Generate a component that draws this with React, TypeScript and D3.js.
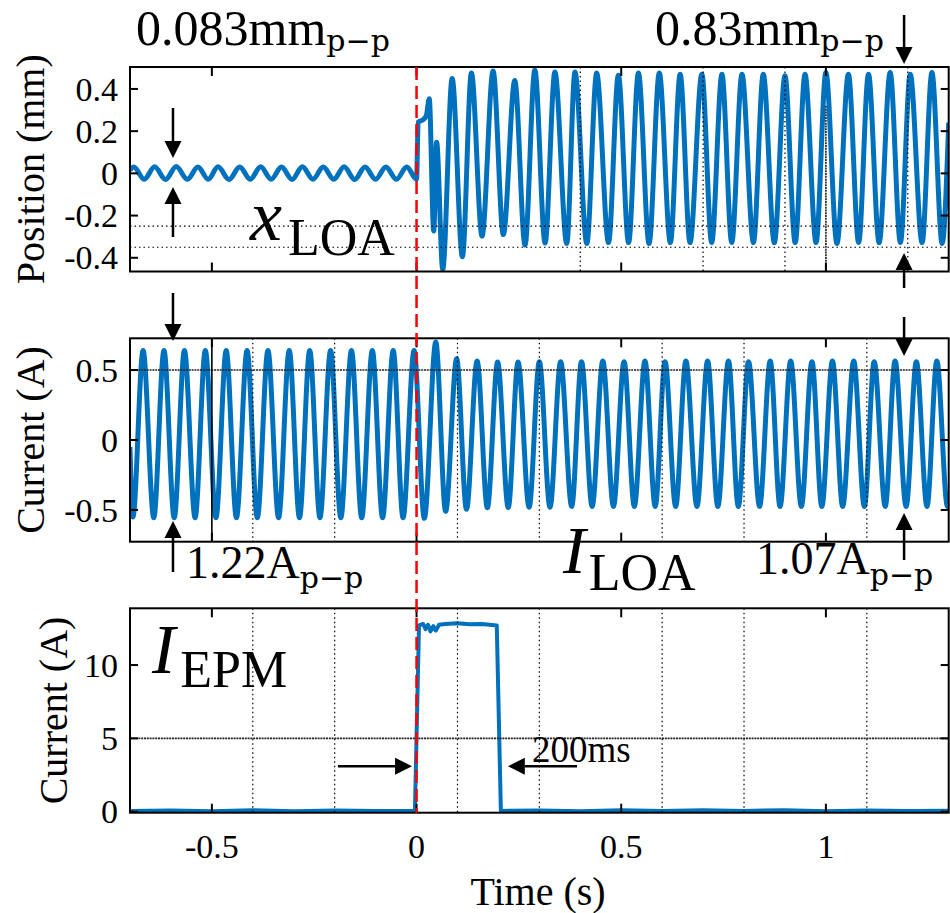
import React from "react";
import * as d3 from "d3";

const W = 950;
const H = 913;
const FONT = "Liberation Serif, Times New Roman, serif";
const BLUE = "#0072BD";

// time axis
const timeDomain = [-0.7, 1.3];
const timeTicks = [-0.5, 0, 0.5, 1];
const timeTickLabels = ["-0.5", "0", "0.5", "1"];

// x_LOA position (mm), extrema
const positionPoints: [number, number][] = [
  [-0.7, 0.015], [-0.691, 0.03], [-0.665, -0.028], [-0.64, 0.031], [-0.613, -0.029], [-0.587, 0.032],
  [-0.56, -0.028], [-0.534, 0.03], [-0.509, -0.028], [-0.485, 0.031], [-0.458, -0.029], [-0.432, 0.03],
  [-0.406, -0.028], [-0.381, 0.031], [-0.355, -0.028], [-0.33, 0.03], [-0.304, -0.029], [-0.279, 0.031],
  [-0.253, -0.028], [-0.228, 0.03], [-0.202, -0.028], [-0.177, 0.031], [-0.151, -0.029], [-0.126, 0.03],
  [-0.1, -0.028], [-0.075, 0.03], [-0.049, -0.028], [-0.024, 0.03], [0.0, -0.028],
  [0.004, 0.243], [0.016, 0.254], [0.024, 0.275], [0.031, 0.354], [0.042, -0.273], [0.049, 0.148],
  [0.064, -0.455], [0.087, 0.45], [0.112, -0.395], [0.134, 0.475], [0.16, -0.297], [0.187, 0.485],
  [0.212, -0.29], [0.24, 0.44], [0.265, -0.34], [0.289, 0.49], [0.314, -0.33], [0.338, 0.48],
  [0.367, -0.332], [0.387, 0.48], [0.416, -0.332], [0.44, 0.475], [0.469, -0.328], [0.493, 0.465],
  [0.518, -0.328], [0.542, 0.475], [0.568, -0.332], [0.593, 0.475], [0.62, -0.328], [0.644, 0.47],
  [0.668, -0.328], [0.697, 0.47], [0.721, -0.328], [0.746, 0.47], [0.77, -0.328], [0.795, 0.47],
  [0.823, -0.328], [0.847, 0.47], [0.874, -0.328], [0.9, 0.462], [0.925, -0.328], [0.949, 0.47],
  [0.976, -0.328], [1.0, 0.478], [1.027, -0.332], [1.055, 0.47], [1.08, -0.328], [1.104, 0.47],
  [1.13, -0.328], [1.157, 0.478], [1.182, -0.328], [1.206, 0.47], [1.235, -0.328], [1.259, 0.478],
  [1.284, -0.332], [1.3, 0.24],
];

// I_LOA current (A)
const currentPoints: [number, number][] = [
  [-0.7, -0.05], [-0.693, -0.55], [-0.668, 0.64], [-0.642, -0.555], [-0.617, 0.64], [-0.592, -0.555],
  [-0.567, 0.64], [-0.541, -0.555], [-0.516, 0.64], [-0.49, -0.555], [-0.465, 0.64], [-0.44, -0.555],
  [-0.414, 0.64], [-0.389, -0.555], [-0.363, 0.64], [-0.337, -0.555], [-0.311, 0.64], [-0.286, -0.555],
  [-0.261, 0.64], [-0.236, -0.555], [-0.21, 0.64], [-0.185, -0.555], [-0.159, 0.64], [-0.134, -0.555],
  [-0.108, 0.64], [-0.083, -0.555], [-0.057, 0.64], [-0.033, -0.555], [-0.006, 0.64],
  [0.019, -0.56], [0.047, 0.7], [0.071, -0.51], [0.098, 0.58], [0.122, -0.495], [0.148, 0.565],
  [0.173, -0.485], [0.198, 0.557], [0.224, -0.483], [0.248, 0.557], [0.275, -0.48], [0.3, 0.56],
  [0.326, -0.48], [0.352, 0.56], [0.379, -0.475], [0.403, 0.56], [0.429, -0.475], [0.455, 0.565],
  [0.481, -0.475], [0.507, 0.56], [0.532, -0.475], [0.558, 0.565], [0.583, -0.475], [0.607, 0.56],
  [0.633, -0.475], [0.658, 0.565], [0.685, -0.475], [0.711, 0.565], [0.736, -0.475], [0.762, 0.565],
  [0.786, -0.475], [0.811, 0.56], [0.838, -0.475], [0.864, 0.565], [0.888, -0.475], [0.914, 0.565],
  [0.94, -0.475], [0.966, 0.56], [0.99, -0.475], [1.016, 0.565], [1.041, -0.475], [1.068, 0.565],
  [1.094, -0.475], [1.118, 0.56], [1.145, -0.475], [1.169, 0.565], [1.196, -0.475], [1.221, 0.56],
  [1.247, -0.475], [1.271, 0.565], [1.297, -0.475], [1.3, -0.47],
];

// I_EPM current (A)
const epmPoints: [number, number][] = [
  [-0.7, 0.05], [-0.6, 0.08], [-0.5, 0.03], [-0.4, 0.1], [-0.3, 0.03], [-0.2, 0.08], [-0.1, 0.04],
  [-0.004, 0.05], [0.006, 12.7], [0.016, 12.8], [0.022, 12.45], [0.028, 12.75], [0.034, 12.3],
  [0.041, 12.65], [0.047, 12.35], [0.055, 12.75], [0.07, 12.8], [0.1, 12.85], [0.13, 12.78],
  [0.16, 12.8], [0.196, 12.7], [0.206, 0.05], [0.3, 0.08], [0.4, 0.03], [0.5, 0.1], [0.6, 0.04],
  [0.7, 0.09], [0.8, 0.05], [0.9, 0.1], [1.0, 0.03], [1.1, 0.08], [1.2, 0.05], [1.3, 0.07],
];

const posTicks = [0.4, 0.2, 0, -0.2, -0.4];
const posTickLabels = ["0.4", "0.2", "0", "-0.2", "-0.4"];
const curTicks = [0.5, 0, -0.5];
const curTickLabels = ["0.5", "0", "-0.5"];
const epmTicks = [10, 5, 0];
const epmTickLabels = ["10", "5", "0"];

const xs = d3.scaleLinear().domain(timeDomain).range([130, 948.7]);

type Panel = {
  id: string;
  top: number;
  bottom: number;
  domain: [number, number];
  ticks: number[];
  labels: string[];
  data: [number, number][];
  curve: d3.CurveFactory;
  width: number;
  label: string;
  labelX: number;
  vDotted: number[];
  hDotted: number[];
  hDense: number[];
};

const panels: Panel[] = [
  {
    id: "p1", top: 67, bottom: 271.5, domain: [-0.465, 0.504], ticks: posTicks, labels: posTickLabels,
    data: positionPoints, curve: d3.curveMonotoneX, width: 5, label: "Position (mm)", labelX: 44,
    vDotted: [0.4, 0.7, 0.9, 1.2], hDotted: [-0.25, -0.35], hDense: [],
  },
  {
    id: "p2", top: 338.3, bottom: 541.7, domain: [-0.727, 0.727], ticks: curTicks, labels: curTickLabels,
    data: currentPoints, curve: d3.curveMonotoneX, width: 5, label: "Current (A)", labelX: 44,
    vDotted: [-0.4, -0.2, 0.1, 0.3, 0.6, 0.8, 1.1], hDotted: [], hDense: [0.5],
  },
  {
    id: "p3", top: 608.3, bottom: 812.7, domain: [-0.07, 13.87], ticks: epmTicks, labels: epmTickLabels,
    data: epmPoints, curve: d3.curveLinear, width: 4, label: "Current (A)", labelX: 67,
    vDotted: [-0.4, -0.2, 0.1, 0.3, 0.6, 0.8, 1.1], hDotted: [], hDense: [5],
  },
];

function Arrow({ x1, y1, x2, y2 }: { x1: number; y1: number; x2: number; y2: number }) {
  const a = Math.atan2(y2 - y1, x2 - x1);
  const len = 17;
  const hw = 8.5;
  const bx = x2 - len * Math.cos(a);
  const by = y2 - len * Math.sin(a);
  const px = -Math.sin(a) * hw;
  const py = Math.cos(a) * hw;
  return (
    <g>
      <line x1={x1} y1={y1} x2={bx} y2={by} stroke="#000" strokeWidth={2.5} />
      <polygon points={`${x2},${y2} ${bx + px},${by + py} ${bx - px},${by - py}`} fill="#000" />
    </g>
  );
}

function PanelView({ p, last }: { p: Panel; last: boolean }) {
  const ys = d3.scaleLinear().domain(p.domain).range([p.bottom, p.top]);
  const line = d3.line<[number, number]>().x((d) => xs(d[0])).y((d) => ys(d[1])).curve(p.curve);
  const [x0, x1] = xs.range();
  return (
    <g>
      <defs>
        <clipPath id={`clip-${p.id}`}>
          <rect x={x0} y={p.top} width={x1 - x0} height={p.bottom - p.top} />
        </clipPath>
      </defs>
      <g clipPath={`url(#clip-${p.id})`}>
        <path d={line(p.data) || ""} fill="none" stroke={BLUE} strokeWidth={p.width} strokeLinejoin="round" />
        {p.vDotted.map((t) => (
          <line key={"v" + t} x1={xs(t)} x2={xs(t)} y1={p.top} y2={p.bottom} stroke="#000" strokeWidth={1.2} strokeDasharray="1.5 3" />
        ))}
        {p.hDotted.map((v) => (
          <line key={"h" + v} x1={x0} x2={x1} y1={ys(v)} y2={ys(v)} stroke="#000" strokeWidth={1.2} strokeDasharray="1.5 3" />
        ))}
        {p.hDense.map((v) => (
          <line key={"d" + v} x1={x0} x2={x1} y1={ys(v)} y2={ys(v)} stroke="#222" strokeWidth={1.6} strokeDasharray="2 0.8" />
        ))}
        {p.id === "p1" && (
          <line x1={xs(1)} x2={xs(1)} y1={ys(0.32)} y2={p.bottom} stroke="#333" strokeWidth={1.8} strokeDasharray="2 0.8" />
        )}
        {p.id === "p2" && (
          <line x1={xs(-0.5)} x2={xs(-0.5)} y1={p.top} y2={p.bottom} stroke="#000" strokeWidth={1.6} />
        )}
      </g>
      <rect x={x0} y={p.top} width={x1 - x0} height={p.bottom - p.top} fill="none" stroke="#000" strokeWidth={2} />
      {timeTicks.map((t) => (
        <g key={"xt" + t}>
          <line x1={xs(t)} x2={xs(t)} y1={p.top} y2={p.top + 9} stroke="#000" strokeWidth={2} />
          <line x1={xs(t)} x2={xs(t)} y1={p.bottom} y2={p.bottom - 9} stroke="#000" strokeWidth={2} />
        </g>
      ))}
      {p.ticks.map((v, i) => (
        <g key={"yt" + v}>
          <line x1={x0} x2={x0 + 8} y1={ys(v)} y2={ys(v)} stroke="#000" strokeWidth={2} />
          <line x1={x1} x2={x1 - 8} y1={ys(v)} y2={ys(v)} stroke="#000" strokeWidth={2} />
          <text x={x0 - 12} y={ys(v)} dy="0.34em" textAnchor="end" fontSize={34}>
            {p.labels[i]}
          </text>
        </g>
      ))}
      {last &&
        timeTicks.map((t, i) => (
          <text key={"xl" + t} x={xs(t)} y={p.bottom + 45} textAnchor="middle" fontSize={34}>
            {timeTickLabels[i]}
          </text>
        ))}
      <text
        transform={`translate(${p.labelX},${(p.top + p.bottom) / 2}) rotate(-90)`}
        textAnchor="middle"
        fontSize={40}
      >
        {p.label}
      </text>
    </g>
  );
}

export default function App() {
  const [p1, , p3] = panels;
  const ys3 = d3.scaleLinear().domain(p3.domain).range([p3.bottom, p3.top]);
  const aL = xs(-0.595);
  const aR = xs(1.191);
  const sub = { style: { fontFamily: "DejaVu Serif, serif" }, fontSize: 30 };
  return (
    <svg width={W} height={H} style={{ position: "absolute", left: 0, top: 0, background: "#fff", fontFamily: FONT }}>
      <rect width={W} height={H} fill="#fff" />
      {panels.map((p, i) => (
        <PanelView key={p.id} p={p} last={i === panels.length - 1} />
      ))}
      <line x1={xs(0)} x2={xs(0)} y1={p1.top} y2={p3.bottom} stroke="#ff0000" strokeWidth={2.5} strokeDasharray="13 6" />
      <text x={538} y={905} textAnchor="middle" fontSize={40}>Time (s)</text>

      {/* annotations */}
      <text x={136} y={45} fontSize={50}>
        0.083mm<tspan dy={6} {...sub}>p−p</tspan>
      </text>
      <text x={655} y={45} fontSize={50}>
        0.83mm<tspan dy={6} {...sub}>p−p</tspan>
      </text>
      <text x={186} y={578} fontSize={46}>
        1.22A<tspan dy={10} {...sub}>p−p</tspan>
      </text>
      <text x={756} y={574} fontSize={46}>
        1.07A<tspan dy={11} {...sub}>p−p</tspan>
      </text>
      <text x={250} y={240}>
        <tspan fontStyle="italic" fontSize={72}>x</tspan>
        <tspan dx={6} dy={15} fontSize={52}>LOA</tspan>
      </text>
      <text x={563} y={573}>
        <tspan fontStyle="italic" fontSize={68}>I</tspan>
        <tspan dx={3} dy={17} fontSize={52}>LOA</tspan>
      </text>
      <text x={152} y={673}>
        <tspan fontStyle="italic" fontSize={70}>I</tspan>
        <tspan dx={5} dy={14} fontSize={52}>EPM</tspan>
      </text>
      <text x={532} y={762} fontSize={37}>200ms</text>

      <Arrow x1={aL} y1={108} x2={aL} y2={158} />
      <Arrow x1={aL} y1={237} x2={aL} y2={187} />
      <Arrow x1={aR} y1={15} x2={aR} y2={64} />
      <Arrow x1={aR} y1={288} x2={aR} y2={253} />
      <Arrow x1={aL} y1={293} x2={aL} y2={341} />
      <Arrow x1={aL} y1={572} x2={aL} y2={521} />
      <Arrow x1={aR} y1={317} x2={aR} y2={356} />
      <Arrow x1={aR} y1={560} x2={aR} y2={513} />
      <Arrow x1={xs(-0.192)} y1={ys3(3.1)} x2={xs(-0.011)} y2={ys3(3.1)} />
      <Arrow x1={xs(0.392)} y1={ys3(3.1)} x2={xs(0.223)} y2={ys3(3.1)} />
    </svg>
  );
}
